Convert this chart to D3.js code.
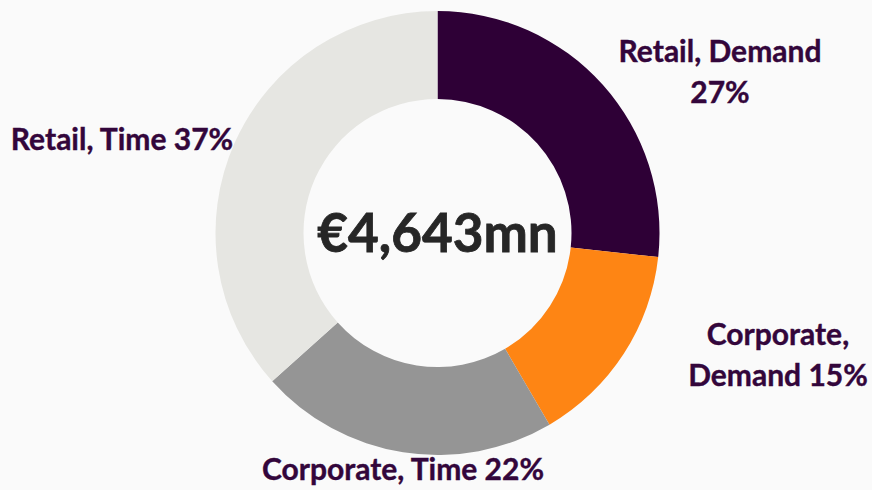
<!DOCTYPE html>
<html>
<head>
<meta charset="utf-8">
<script src="https://cdn.jsdelivr.net/npm/d3@7"></script>
<style>
  html, body { margin: 0; padding: 0; background: #fafafa; }
  svg { display: block; }
</style>
</head>
<body>
<div id="chart"></div>
<script>
// data
const categories = ["Retail, Demand", "Corporate, Demand", "Corporate, Time", "Retail, Time"]
const shares = [27, 15, 22, 37]
const totalLabel = "€4,643mn"

const colors = ["#2e0036", "#fe8514", "#959595", "#e6e6e2"]

// hand placed label lines (as in the original slide)
const labelLayout = [
  { lines: ["Retail, Demand", "27%"], x: 720, y: 62 },
  { lines: ["Corporate,", "Demand 15%"], x: 778, y: 345 },
  { lines: ["Corporate, Time 22%"], x: 403, y: 480 },
  { lines: ["Retail, Time 37%"], x: 122, y: 150 }
]

const width = 872, height = 490
const cx = 437.5, cy = 233
const outerR = 222, innerR = 134

let svg = d3.select("#chart").append("svg")
  .attr("width", width)
  .attr("height", height)

svg.append("rect")
  .attr("width", width)
  .attr("height", height)
  .attr("fill", "#fafafa")

let data = categories.map((c, i) => ({ name: c, value: shares[i] }))

let pie = d3.pie()
  .value(d => d.value)
  .sort(null)

let arc = d3.arc()
  .innerRadius(innerR)
  .outerRadius(outerR)

let g = svg.append("g")
  .attr("transform", "translate(" + cx + "," + cy + ")")

g.selectAll("path")
  .data(pie(data))
  .join("path")
  .attr("d", arc)
  .attr("fill", (d, i) => colors[i])

// centre total
svg.append("text")
  .attr("x", cx)
  .attr("y", cy + 19)
  .attr("text-anchor", "middle")
  .attr("font-family", "Lato, 'Open Sans', sans-serif")
  .attr("font-weight", "bold")
  .attr("font-size", 53)
  .attr("fill", "#262626")
  .attr("stroke", "#262626")
  .attr("stroke-width", 0.8)
  .text(totalLabel)

// slice labels
labelLayout.forEach(l => {
  let t = svg.append("text")
    .attr("text-anchor", "middle")
    .attr("font-family", "Lato, 'Open Sans', sans-serif")
    .attr("font-weight", "bold")
    .attr("font-size", 30)
    .attr("fill", "#33063b")
    .attr("stroke", "#33063b")
    .attr("stroke-width", 0.4)
  l.lines.forEach((s, k) => {
    t.append("tspan")
      .attr("x", l.x)
      .attr("y", l.y + k * 41)
      .text(s)
  })
})
</script>
</body>
</html>
